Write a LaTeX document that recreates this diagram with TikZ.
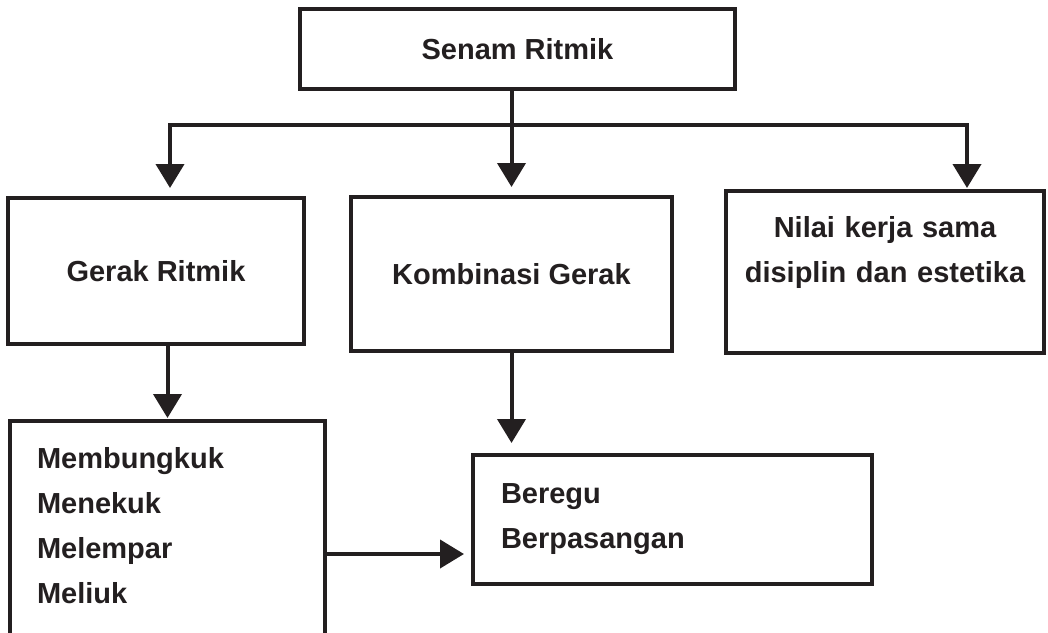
\documentclass[tikz,border=0pt]{standalone}
\usepackage{fontspec}
\setmainfont{Liberation Sans}
\usetikzlibrary{arrows.meta}
\definecolor{inkdark}{HTML}{231F20}

\begin{document}
\begin{tikzpicture}[x=1pt,y=-1pt,>={Triangle[length=24pt,width=28pt]},line width=4pt,inkdark,
 box/.style={draw,rectangle,outer sep=0pt,inner sep=0pt,font=\fontsize{29}{45}\selectfont\bfseries}]
 \useasboundingbox (0,0) rectangle (1048,632);
 \clip (0,0) rectangle (1048,632);
 \node[box,minimum width=435pt,minimum height=80pt] (senam) at (517.5,49) {Senam Ritmik};
 \node[box,minimum width=296pt,minimum height=146pt] (gerak) at (156,271) {Gerak Ritmik};
 \node[box,minimum width=321pt,minimum height=154pt] (kombinasi) at (511.5,274) {Kombinasi Gerak};
 \node[box,minimum width=318pt,minimum height=162pt,text width=290pt,align=center] (nilai) at (885,272) {Nilai kerja sama\\disiplin dan estetika\\\mbox{}};
 \node[box,anchor=north west,minimum width=315pt,text width=261pt,inner xsep=27pt,inner ysep=26pt,align=left] (gerakan) at (10,421) {Membungkuk\\Menekuk\\Melempar\\Meliuk\\\mbox{}};
 \node[box,minimum width=399pt,minimum height=129pt,text width=343pt,inner xsep=28pt,align=left] (beregu) at (672.5,519.5) {Beregu\\Berpasangan};
 \coordinate (kiri) at (170,125);
 \coordinate (kanan) at (967,125);
 \coordinate (sambung) at ([yshift=-133pt]gerakan.north east);
 \draw[<->,shorten <=10pt,shorten >=3pt] (kiri |- gerak.north) -- (kiri) -- (kanan) -- (kanan |- nilai.north);
 \draw[->,shorten >=10pt] (senam.south -| kombinasi.north) -- (kombinasi.north);
 \draw[->,shorten >=3pt] (gerak.south -| gerakan.north) -- (gerakan.north);
 \draw[->,shorten >=12pt] (kombinasi.south) -- (kombinasi.south |- beregu.north);
 \draw[->,shorten >=9pt] (sambung) -- (sambung -| beregu.west);
\end{tikzpicture}
\end{document}
